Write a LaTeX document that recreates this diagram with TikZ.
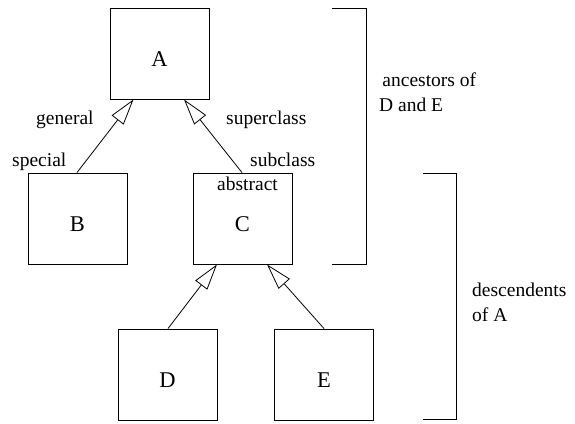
\documentclass[tikz,border=0pt]{standalone}
\usepackage{fontspec}
\setmainfont{Liberation Serif}
\usetikzlibrary{arrows.meta}
\begin{document}
\begin{tikzpicture}[x=1pt,y=-1pt,
  cls/.style={draw,line width=0.9pt,minimum width=99pt,minimum height=91pt,inner sep=0pt,text height=25pt,text depth=0pt,font=\fontsize{22.5}{26}\selectfont},
  lbl/.style={inner sep=0pt,font=\fontsize{19.5}{23}\selectfont},
  lbl2/.style={inner sep=0pt,align=left,font=\fontsize{19.5}{25}\selectfont},
  inh/.style={-{Triangle[open,length=26pt,width=15pt]},line width=0.8pt},
  brk/.style={line width=0.9pt}]
\useasboundingbox (0,0) rectangle (575,423);
\node[cls] (A) at (159.5,53.5) {A};
\node[cls] (B) at (77.5,218.5) {B};
\node[cls] (C) at (242.5,218.5) {C};
\node[cls] (D) at (167.5,374.5) {D};
\node[cls] (E) at (324,374.5) {E};
\draw[inh] (B.north -| 77,0) -- (A.south -| 133.5,0);
\draw[inh] (C.north -| 242,0) -- (A.south -| 184,0);
\draw[inh] (D.north -| 168,0) -- (C.south -| 217,0);
\draw[inh] (E.north -| 324,0) -- (C.south -| 267,0);
\node[lbl,anchor=base west] (g) at (36,124) {general};
\node[lbl,anchor=base west] (s) at (12,166) {special};
\node[lbl,anchor=base west] (sc) at (226,124) {superclass};
\node[lbl,anchor=base west] (sb) at (250,166) {subclass};
\node[lbl,anchor=base west] (ab) at (217,190) {abstract};
\coordinate (t1) at (332,8);
\coordinate (t2) at (366,8);
\coordinate (t3) at (366,264);
\coordinate (t4) at (332,264);
\draw[brk] (t1) -- (t2) -- (t3) -- (t4);
\coordinate (u1) at (423,173.5);
\coordinate (u2) at (456,173.5);
\coordinate (u3) at (456,419);
\coordinate (u4) at (423,419);
\draw[brk] (u1) -- (u2) -- (u3) -- (u4);
\node[lbl2,anchor=north west] (an) at (379,73) {\,ancestors of\\D and E};
\node[lbl2,anchor=north west] (de) at (472,283) {descendents\\of A};
\end{tikzpicture}
\end{document}
